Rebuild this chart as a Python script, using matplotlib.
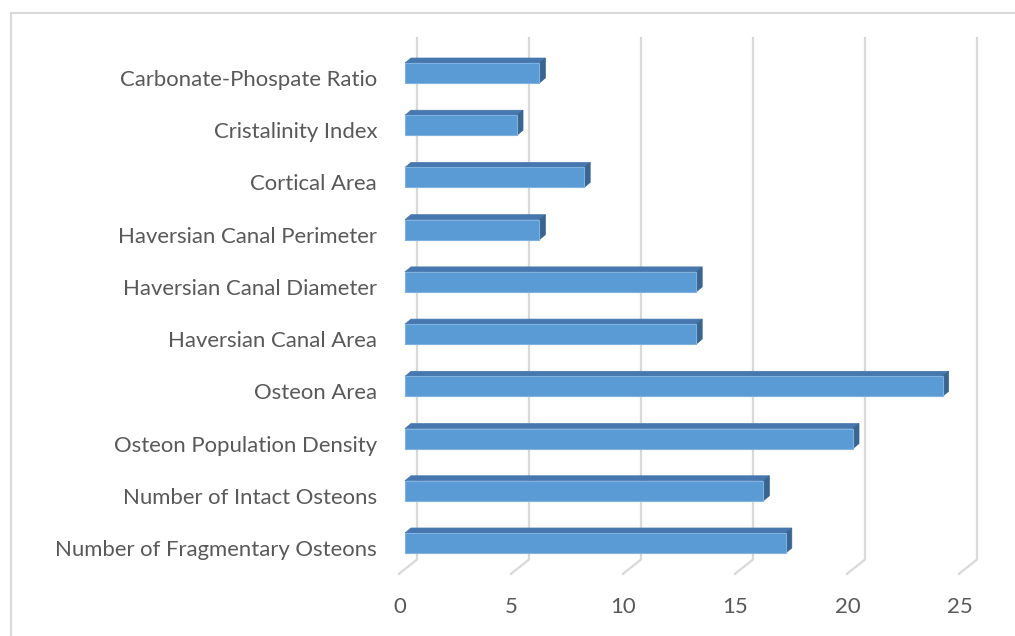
import matplotlib
matplotlib.use("Agg")
import matplotlib.pyplot as plt
from matplotlib.patches import Polygon, Rectangle
from matplotlib.transforms import offset_copy

categories = [
    "Number of Fragmentary Osteons",
    "Number of Intact Osteons",
    "Osteon Population Density",
    "Osteon Area",
    "Haversian Canal Area",
    "Haversian Canal Diameter",
    "Haversian Canal Perimeter",
    "Cortical Area",
    "Cristalinity Index",
    "Carbonate-Phospate Ratio",
]
values = [17, 16, 20, 24, 13, 13, 6, 8, 5, 6]
x_ticks = [0, 5, 10, 15, 20, 25]

FRONT = "#5B9BD5"
TOP = "#4677AE"
SIDE = "#3A6591"
EDGE = "#7FB2E0"
GRID = "#D9D9D9"
TEXT = "#595959"
FONT = "Lato"
FS = 15.9

W, H, DPI = 1015, 636, 100
fig = plt.figure(figsize=(W / DPI, H / DPI), dpi=DPI)

# axes frame = front plane of the bars
left_px, right_px = 405, 965
top_px, bottom_px = 46.9, 569.1
ax = fig.add_axes([left_px / W, 1 - bottom_px / H,
                   (right_px - left_px) / W, (bottom_px - top_px) / H])
ax.set_xlim(0, 25)
ax.set_ylim(-0.5, len(categories) - 0.5)
ax.axis("off")

# pixel -> data unit conversion
px_x = (right_px - left_px) / 25.0
px_y = (bottom_px - top_px) / len(categories)

def dxd(px):
    return px / px_x

def dyd(px):
    return px / px_y

# depth offsets (pixels): bar depth, back wall, front floor edge
bar_dx, bar_dy = 6, 5
wall_dx, wall_dy = 12, 9.5
floor_dx, floor_dy = -7, -5.5

y_floor = -0.5
y_top = len(categories) - 0.5

# back-wall gridlines and floor diagonals
for t in x_ticks:
    xb = t + dxd(wall_dx)
    ax.plot([xb, xb], [y_floor + dyd(wall_dy), y_top + dyd(wall_dy)],
            color=GRID, lw=1.6, solid_capstyle="butt", zorder=1, clip_on=False)
    ax.plot([xb, t + dxd(floor_dx)],
            [y_floor + dyd(wall_dy), y_floor + dyd(floor_dy)],
            color=GRID, lw=1.6, solid_capstyle="butt", zorder=1, clip_on=False)

# 3-D style bars
bar_h = 20 / px_y
for i, v in enumerate(values):
    y0 = i - bar_h / 2
    y1 = i + bar_h / 2
    ddx, ddy = dxd(bar_dx), dyd(bar_dy)
    top_face = Polygon([(0, y1), (v, y1), (v + ddx, y1 + ddy), (ddx, y1 + ddy)],
                       closed=True, facecolor=TOP, edgecolor=TOP, lw=0.5,
                       zorder=3, clip_on=False)
    side_face = Polygon([(v, y0), (v + ddx, y0 + ddy), (v + ddx, y1 + ddy), (v, y1)],
                        closed=True, facecolor=SIDE, edgecolor=SIDE, lw=0.5,
                        zorder=3, clip_on=False)
    front = Rectangle((0, y0), v, bar_h, facecolor=FRONT, edgecolor=EDGE,
                      lw=0.8, zorder=4, clip_on=False)
    ax.add_patch(top_face)
    ax.add_patch(side_face)
    ax.add_patch(front)

# category labels aligned with the front floor plane
lab_tr = offset_copy(ax.transData, fig=fig, x=-28, y=-7, units="dots")
for i, c in enumerate(categories):
    ax.text(0, i, c, transform=lab_tr, ha="right", va="center",
            fontsize=FS, color=TEXT, family=FONT, clip_on=False)

# value axis labels under the floor
tick_tr = offset_copy(ax.transData, fig=fig, x=-5.5, y=-38, units="dots")
for t in x_ticks:
    ax.text(t, y_floor, str(t), transform=tick_tr, ha="center", va="center",
            fontsize=FS, color=TEXT, family=FONT, clip_on=False)

# chart area border
fig.patches.append(Rectangle((10.5 / W, -0.1), 1.2, 1.1 - 12.5 / H,
                             transform=fig.transFigure, fill=False,
                             edgecolor=GRID, lw=1.5))

fig.savefig("out.png", dpi=DPI)
